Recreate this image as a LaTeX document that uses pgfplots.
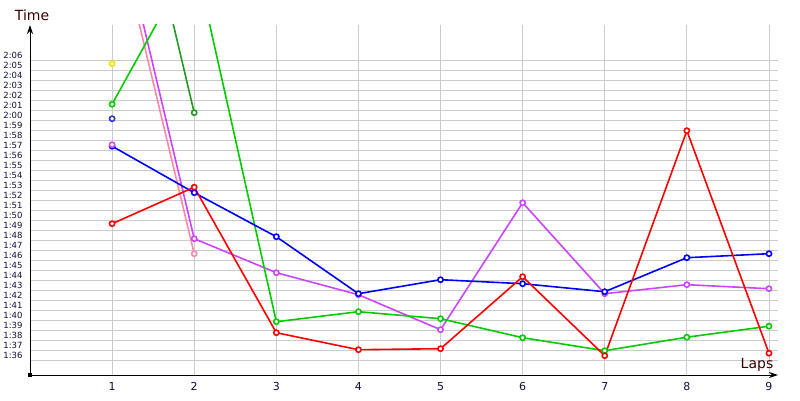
\documentclass[border=0pt]{standalone}
\usepackage{pgfplots}
\pgfplotsset{compat=1.18}
\usetikzlibrary{arrows.meta}
\usepackage{fontspec}
\setmainfont{DejaVu Sans}
\definecolor{cblue}{HTML}{0000FF}
\definecolor{cred}{HTML}{FF0000}
\definecolor{cgreen}{HTML}{00CC00}
\definecolor{cdgreen}{HTML}{229922}
\definecolor{cpurple}{HTML}{CC44FF}
\definecolor{cpink}{HTML}{FF88AA}
\definecolor{cyellow}{HTML}{E6E600}
\definecolor{cnavy}{HTML}{3333CC}
\definecolor{labcol}{HTML}{3A0000}
\definecolor{tickcol}{HTML}{101040}
\begin{document}
\begin{tikzpicture}[x=1pt,y=1pt]
\path[use as bounding box] (0,0) rectangle (800,400);
\begin{axis}[
  at={(30pt,25pt)}, anchor=south west,
  scale only axis, width=748pt, height=350pt,
  xmin=0, xmax=9.11, ymin=94.07, ymax=129.07,
  axis lines=left,
  axis line style={black, line width=1pt, -{Stealth[length=9pt,width=6pt]}},
  xtick={1,...,9},
  ytick={96,...,126},
  yticklabels={1:36,1:37,1:38,1:39,1:40,1:41,1:42,1:43,1:44,1:45,1:46,1:47,1:48,1:49,1:50,1:51,1:52,1:53,1:54,1:55,1:56,1:57,1:58,1:59,2:00,2:01,2:02,2:03,2:04,2:05,2:06},
  minor ytick={95.5,96.5,...,125.5},
  xmajorgrids, yminorgrids,
  major grid style={draw=black!20, line width=0.9pt},
  minor grid style={draw=black!20, line width=0.9pt},
  major tick length=0pt, minor tick length=0pt,
  /pgf/number format/assume math mode=true,
  yticklabel style={font=\fontsize{8.5}{9}\selectfont, text=tickcol, xshift=-4pt},
  xticklabel style={font=\fontsize{11}{12}\selectfont, text=tickcol, yshift=-4pt},
  every axis plot/.append style={line width=1.6pt},
  mark options={solid, fill=white, line width=0.9pt},
  mark size=2.6pt,
  clip=true,
]
\addplot[cpink, mark=*, mark options={draw=cpink, fill=white}] coordinates {(1,140.5) (2,106.2)};
\addplot[cdgreen, mark=*, mark options={draw=cdgreen, fill=white}] coordinates {(1,155) (2,120.3)};
\addplot[cpurple, mark=*, mark options={draw=cpurple, fill=white}] coordinates {(1,142.3) (2,107.7) (3,104.3) (4,102.1) (5,98.6) (6,111.3) (7,102.2) (8,103.1) (9,102.7)};
\addplot[cgreen, mark=*, mark options={draw=cgreen, fill=white}] coordinates {(1,121.15) (2,136) (3,99.4) (4,100.4) (5,99.7) (6,97.8) (7,96.5) (8,97.85) (9,98.95)};
\addplot[cblue, mark=*, mark options={draw=cblue, fill=white}] coordinates {(1,116.95) (2,112.3) (3,107.9) (4,102.2) (5,103.6) (6,103.2) (7,102.4) (8,105.8) (9,106.2)};
\addplot[cred, mark=*, mark options={draw=cred, fill=white}] coordinates {(1,109.2) (2,112.85) (3,98.3) (4,96.6) (5,96.7) (6,103.9) (7,96.0) (8,118.5) (9,96.25)};
\addplot[only marks, mark=*, mark options={draw=cpurple!80!cpink, fill=white}] coordinates {(1,117.1)};
\addplot[only marks, mark=*, mark options={draw=cnavy, fill=white}] coordinates {(1,119.7)};
\addplot[only marks, mark=*, mark options={draw=cyellow, fill=white}] coordinates {(1,125.2)};
\end{axis}
\fill[black] (28,23) rectangle (32,27);
\node[text=labcol, font=\fontsize{14}{16}\selectfont] at (32,385) {Time};
\node[text=labcol, font=\fontsize{14}{16}\selectfont] at (757,35) {Laps};
\end{tikzpicture}
\end{document}
